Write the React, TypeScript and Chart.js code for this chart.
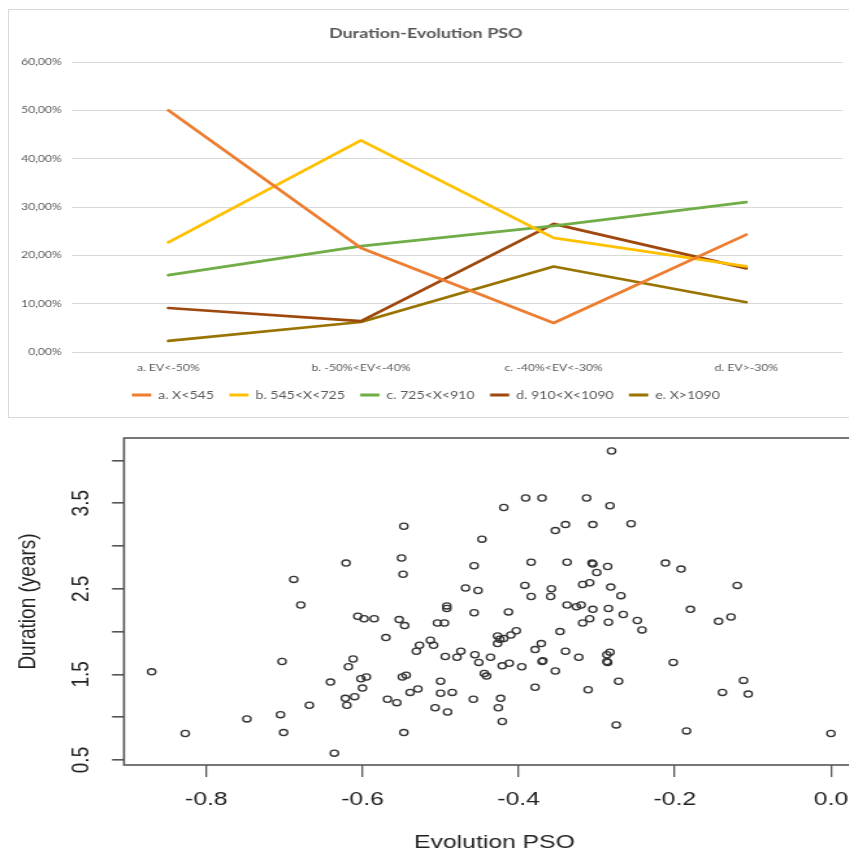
import React, { useEffect, useRef } from "react";
import { Chart, registerables } from "chart.js";

Chart.register(...registerables);

// ---------- Top chart data (line chart) ----------
const categories = ["a. EV<-50%", "b. -50%<EV<-40%", "c. -40%<EV<-30%", "d. EV>-30%"];
const seriesNames = ["a. X<545", "b. 545<X<725", "c. 725<X<910", "d. 910<X<1090", "e. X>1090"];
const seriesA = [50.0, 21.5, 6.0, 24.3];
const seriesB = [22.7, 43.8, 23.6, 17.7];
const seriesC = [15.9, 21.9, 26.1, 31.0];
const seriesD = [9.1, 6.4, 26.5, 17.3];
const seriesE = [2.3, 6.2, 17.7, 10.3];
const seriesColors = ["#ED7D31", "#FFC000", "#70AD47", "#9E480E", "#997300"];
const pctTicks = [0, 10, 20, 30, 40, 50, 60];
const topTitle = "Duration-Evolution PSO";

// ---------- Bottom chart data (scatter) ----------
const evolutionPSO = [
  -0.870, -0.827, -0.748, -0.703, -0.705, -0.701, -0.688, -0.679, -0.668, -0.641,
  -0.636, -0.621, -0.612, -0.618, -0.622, -0.620, -0.610, -0.606, -0.598, -0.585,
  -0.602, -0.595, -0.600, -0.570, -0.568, -0.556, -0.547, -0.550, -0.548, -0.553,
  -0.546, -0.549, -0.544, -0.547, -0.539, -0.529, -0.531, -0.527, -0.513, -0.509,
  -0.500, -0.500, -0.485, -0.507, -0.491, -0.504, -0.495, -0.492, -0.492, -0.494,
  -0.479, -0.474, -0.468, -0.452, -0.457, -0.447, -0.457, -0.456, -0.451, -0.436,
  -0.444, -0.441, -0.458, -0.419,
  -0.281, -0.391, -0.370, -0.313, -0.283, -0.353, -0.340, -0.305, -0.256, -0.384,
  -0.338, -0.306, -0.305, -0.286, -0.300, -0.212, -0.192, -0.120, -0.392, -0.384,
  -0.358, -0.359, -0.318, -0.309, -0.282, -0.269, -0.413, -0.338, -0.326, -0.320,
  -0.305, -0.285, -0.266, -0.248, -0.242, -0.180, -0.144, -0.128, -0.318, -0.309,
  -0.285, -0.347, -0.427, -0.419, -0.410, -0.403, -0.427, -0.424, -0.421, -0.412,
  -0.396, -0.379, -0.371, -0.369, -0.370, -0.340, -0.323, -0.353, -0.287, -0.283,
  -0.286, -0.287, -0.272, -0.311, -0.379, -0.423, -0.426, -0.421, -0.275, -0.202,
  -0.112, -0.139, -0.106, -0.185, 0.0,
];
const durationYears = [
  1.53, 0.81, 0.98, 1.65, 1.03, 0.82, 2.61, 2.31, 1.14, 1.41,
  0.58, 2.80, 1.68, 1.59, 1.22, 1.14, 1.24, 2.18, 2.15, 2.15,
  1.45, 1.47, 1.34, 1.93, 1.21, 1.17, 3.23, 2.86, 2.67, 2.14,
  2.07, 1.47, 1.49, 0.82, 1.29, 1.33, 1.77, 1.84, 1.90, 1.84,
  1.42, 1.28, 1.29, 1.11, 1.06, 2.10, 2.10, 2.30, 2.27, 1.71,
  1.70, 1.77, 2.51, 2.48, 2.77, 3.08, 2.22, 1.73, 1.64, 1.70,
  1.51, 1.48, 1.21, 3.45,
  4.11, 3.56, 3.56, 3.56, 3.47, 3.18, 3.25, 3.25, 3.26, 2.81,
  2.81, 2.80, 2.79, 2.76, 2.69, 2.80, 2.73, 2.54, 2.54, 2.41,
  2.50, 2.41, 2.55, 2.57, 2.52, 2.42, 2.23, 2.31, 2.29, 2.31,
  2.26, 2.27, 2.20, 2.13, 2.02, 2.26, 2.12, 2.17, 2.10, 2.15,
  2.11, 2.00, 1.95, 1.92, 1.96, 2.01, 1.86, 1.91, 1.60, 1.63,
  1.59, 1.79, 1.86, 1.66, 1.65, 1.77, 1.70, 1.54, 1.73, 1.76,
  1.64, 1.65, 1.42, 1.32, 1.35, 1.22, 1.11, 0.95, 0.91, 1.64,
  1.43, 1.29, 1.27, 0.84, 0.81,
];
const xTickValues = [-0.8, -0.6, -0.4, -0.2, 0.0];
const yTickValues = [0.5, 1.0, 1.5, 2.0, 2.5, 3.0, 3.5, 4.0];
const yLabelValues = [0.5, 1.5, 2.5, 3.5];
const xAxisTitle = "Evolution PSO";
const yAxisTitle = "Duration (years)";

// ---------- layout constants ----------
const TOP_W = 656;
const TOP_H = 406;
const TOP_STRETCH = 1.2805;
const SC_W = 677;
const SC_H = 436;
const SC_STRETCH = 1.3;
const RFONT = "'Liberation Sans', Arial, sans-serif";

export default function App() {
  const topRef = useRef<HTMLCanvasElement>(null);
  const scRef = useRef<HTMLCanvasElement>(null);

  useEffect(() => {
    const seriesList = [seriesA, seriesB, seriesC, seriesD, seriesE];
    const top = new Chart(topRef.current as HTMLCanvasElement, {
      type: "line",
      data: {
        labels: categories,
        datasets: seriesList.map((d, i) => ({
          label: seriesNames[i],
          data: d,
          borderColor: seriesColors[i],
          backgroundColor: seriesColors[i],
          borderWidth: 2.7,
          pointRadius: 0,
          tension: 0,
          borderJoinStyle: "round",
          borderCapStyle: "round",
        })),
      },
      options: {
        responsive: false,
        animation: false,
        layout: { padding: { left: 0, right: 5, top: 0, bottom: 5.5 } },
        plugins: {
          title: {
            display: true,
            text: topTitle,
            color: "#595959",
            font: { family: "Lato", size: 14, weight: "bold" },
            padding: { top: 14.6, bottom: 20.6 },
          },
          legend: {
            position: "bottom",
            labels: {
              boxWidth: 15,
              boxHeight: 3,
              padding: 12,
              color: "#595959",
              font: { family: "Lato", size: 11 },
              generateLabels: (chart: any) =>
                Chart.defaults.plugins.legend.labels
                  .generateLabels(chart)
                  .map((l: any) => ({ ...l, lineWidth: 0 })),
            },
          },
          tooltip: { enabled: false },
        },
        scales: {
          x: {
            offset: true,
            grid: { display: false, drawTicks: false, tickLength: 0 },
            border: { display: false },
            ticks: {
              color: "#595959",
              font: { family: "Lato", size: 9.5 },
              padding: 10,
              maxRotation: 0,
              autoSkip: false,
            },
            afterFit: (s: any) => {
              s.height = 25.5;
            },
          },
          y: {
            min: 0,
            max: 60,
            afterBuildTicks: (s: any) => {
              s.ticks = pctTicks.map((v) => ({ value: v }));
            },
            grid: { color: "#d9d9d9", lineWidth: 1, drawTicks: false, tickLength: 0 },
            border: { display: false },
            ticks: {
              color: "#595959",
              font: { family: "Lato", size: 9.5 },
              padding: 8,
              callback: (v: any) => Number(v).toFixed(2).replace(".", ",") + "%",
            },
            afterFit: (s: any) => {
              s.width = 49.2;
            },
          },
        },
      } as any,
    });

    const boxPlugin = {
      id: "rbox",
      afterDraw(chart: any) {
        const { ctx, chartArea } = chart;
        ctx.save();
        ctx.strokeStyle = "#555";
        ctx.lineWidth = 1.6;
        ctx.strokeRect(chartArea.left, chartArea.top, chartArea.right - chartArea.left, chartArea.bottom - chartArea.top);
        ctx.restore();
      },
    };
    const yLabelPlugin = {
      id: "rylabels",
      afterDraw(chart: any) {
        const { ctx } = chart;
        const ys = chart.scales.y;
        ctx.save();
        ctx.fillStyle = "#222";
        ctx.font = `19px ${RFONT}`;
        ctx.textAlign = "center";
        ctx.textBaseline = "middle";
        yLabelValues.forEach((v) => {
          const y = ys.getPixelForValue(v);
          ctx.save();
          ctx.translate(62.3, y);
          ctx.rotate(-Math.PI / 2);
          ctx.fillText(v.toFixed(1), 0, 0);
          ctx.restore();
        });
        ctx.restore();
      },
    };

    const sc = new Chart(scRef.current as HTMLCanvasElement, {
      type: "scatter",
      data: {
        datasets: [
          {
            data: evolutionPSO.map((x, i) => ({ x, y: durationYears[i] })),
            pointStyle: "circle",
            pointRadius: 3.1,
            borderColor: "#333",
            borderWidth: 1.3,
            backgroundColor: "rgba(0,0,0,0)",
          },
        ],
      },
      options: {
        responsive: false,
        animation: false,
        layout: { padding: { top: 18, right: 11.6, left: 0, bottom: 0 } },
        plugins: {
          legend: { display: false },
          tooltip: { enabled: false },
        },
        scales: {
          x: {
            type: "linear",
            min: -0.9054,
            max: 0.0435,
            afterBuildTicks: (s: any) => {
              s.ticks = xTickValues.map((v) => ({ value: v }));
            },
            grid: { drawOnChartArea: false, drawTicks: true, tickLength: 12, color: "#555", lineWidth: 1.3 },
            border: { display: false },
            ticks: {
              color: "#222",
              font: { family: RFONT, size: 19 },
              padding: 11.6,
              maxRotation: 0,
              autoSkip: false,
              callback: (v: any) => (Math.abs(Number(v)) < 1e-9 ? 0 : Number(v)).toFixed(1),
            },
            title: {
              display: true,
              text: xAxisTitle,
              color: "#222",
              font: { family: RFONT, size: 19 },
              padding: { top: 4, bottom: 2 },
            },
            afterFit: (s: any) => {
              s.height = 91;
            },
          },
          y: {
            type: "linear",
            min: 0.4416,
            max: 4.2617,
            afterBuildTicks: (s: any) => {
              s.ticks = yTickValues.map((v) => ({ value: v }));
            },
            grid: { drawOnChartArea: false, drawTicks: true, tickLength: 9.2, color: "#555", lineWidth: 1.6 },
            border: { display: false },
            ticks: { display: false },
            title: {
              display: true,
              text: yAxisTitle,
              color: "#222",
              font: { family: RFONT, size: 19 },
              padding: { top: 10, bottom: 0 },
            },
            afterFit: (s: any) => {
              s.width = 95.4;
            },
          },
        },
      } as any,
      plugins: [boxPlugin, yLabelPlugin],
    });

    return () => {
      top.destroy();
      sc.destroy();
    };
  }, []);

  return (
    <div
      style={{
        position: "fixed",
        left: 0,
        top: 0,
        width: 849,
        height: 856,
        overflow: "hidden",
        background: "#fff",
      }}
    >
      <div
        style={{
          position: "absolute",
          left: 8,
          top: 9,
          width: 900,
          height: 409,
          boxSizing: "border-box",
          border: "1px solid #d9d9d9",
        }}
      />
      <canvas
        ref={topRef}
        width={TOP_W}
        height={TOP_H}
        style={{ position: "absolute", left: 9, top: 10, width: TOP_W * TOP_STRETCH, height: TOP_H }}
      />
      <canvas
        ref={scRef}
        width={SC_W}
        height={SC_H}
        style={{ position: "absolute", left: 0, top: 420, width: SC_W * SC_STRETCH, height: SC_H }}
      />
    </div>
  );
}
